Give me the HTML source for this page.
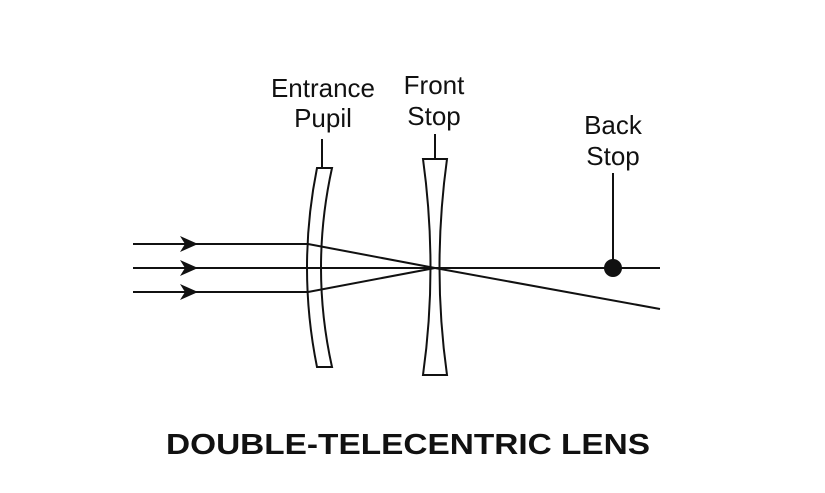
<!DOCTYPE html>
<html><head><style>
html,body{margin:0;padding:0;background:#fff;}
svg{display:block;}
text{font-family:"Liberation Sans",sans-serif;fill:#111;}
</style></head><body>
<svg width="825" height="493" viewBox="0 0 825 493" xmlns="http://www.w3.org/2000/svg">
<g stroke="#111" stroke-width="2" fill="none">
  <line x1="322" y1="139" x2="322" y2="168"/>
  <line x1="435" y1="134" x2="435" y2="159"/>
  <line x1="613" y1="173" x2="613" y2="262"/>
  <path d="M317,168 L332,168 Q310,268 332,367 L317,367 Q297,268 317,168 Z" fill="#fff"/>
  <path d="M423,159 L447,159 Q432,268 447,375 L423,375 Q438,268 423,159 Z" fill="#fff"/>
  <line x1="133" y1="244" x2="308" y2="244"/>
  <line x1="133" y1="268" x2="660" y2="268"/>
  <line x1="133" y1="292" x2="308" y2="292"/>
  <line x1="308" y1="244" x2="435" y2="268"/>
  <line x1="308" y1="292" x2="435" y2="268"/>
  <line x1="435" y1="268" x2="660" y2="309"/>
</g>
<g fill="#111">
  <path d="M180,236 L198,244 L180,252 L185,244 Z"/>
  <path d="M180,260 L198,268 L180,276 L185,268 Z"/>
  <path d="M180,284 L198,292 L180,300 L185,292 Z"/>
  <circle cx="613" cy="268" r="9"/>
</g>
<g font-size="26" text-anchor="middle">
  <text x="323" y="97">Entrance</text>
  <text x="323" y="127">Pupil</text>
  <text x="434" y="94">Front</text>
  <text x="434" y="125">Stop</text>
  <text x="613" y="134">Back</text>
  <text x="613" y="165">Stop</text>
</g>
<text x="408" y="454" font-size="29" font-weight="bold" text-anchor="middle" textLength="484" lengthAdjust="spacingAndGlyphs">DOUBLE-TELECENTRIC LENS</text>
</svg>
</body></html>
